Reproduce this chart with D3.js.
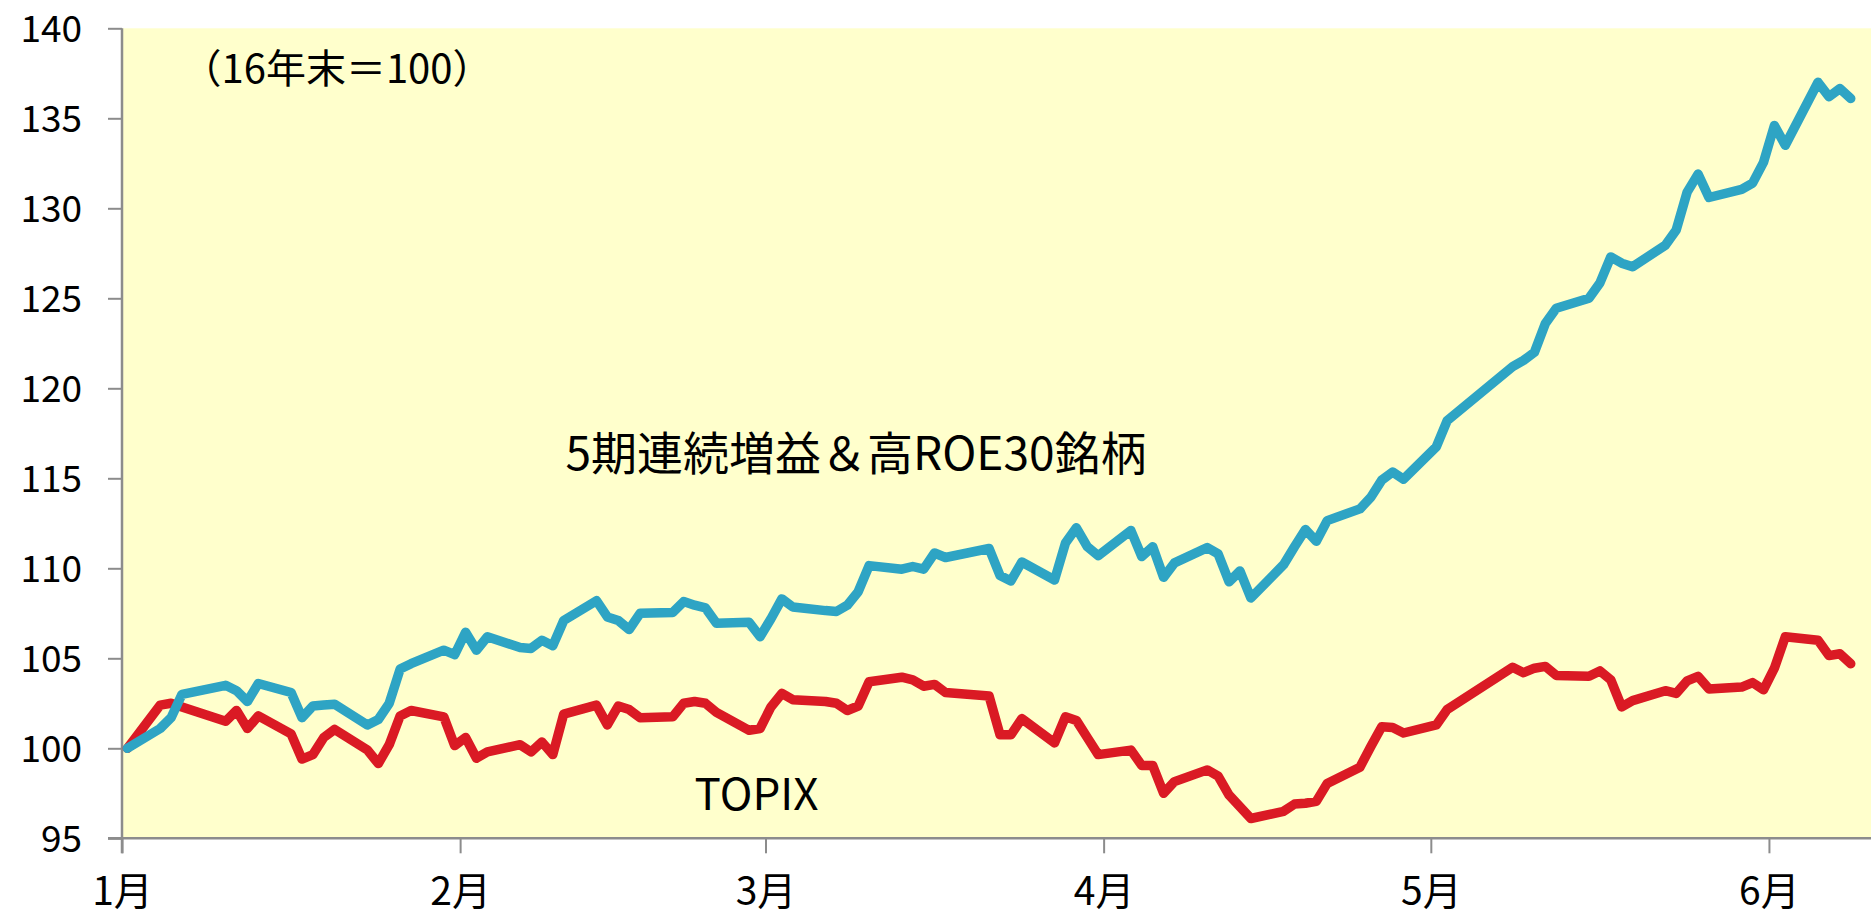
<!DOCTYPE html>
<html>
<head>
<meta charset="utf-8">
<script src="https://cdn.jsdelivr.net/npm/d3@7"></script>
<style>
  html, body { margin: 0; padding: 0; background: #ffffff; overflow: hidden; }
  svg text { font-family: "Noto Sans CJK JP", "Noto Sans", sans-serif; fill: #000; }
</style>
</head>
<body>
<svg id="chart" width="1871" height="917"></svg>
<script>
// Trading days (base point placed on 1 Jan = end of 2016 level)
const dates = [
  "2017-01-01",
  "2017-01-04","2017-01-05","2017-01-06","2017-01-10","2017-01-11","2017-01-12","2017-01-13",
  "2017-01-16","2017-01-17","2017-01-18","2017-01-19","2017-01-20","2017-01-23","2017-01-24",
  "2017-01-25","2017-01-26","2017-01-27","2017-01-30","2017-01-31",
  "2017-02-01","2017-02-02","2017-02-03","2017-02-06","2017-02-07","2017-02-08","2017-02-09",
  "2017-02-10","2017-02-13","2017-02-14","2017-02-15","2017-02-16","2017-02-17","2017-02-20",
  "2017-02-21","2017-02-22","2017-02-23","2017-02-24","2017-02-27","2017-02-28",
  "2017-03-01","2017-03-02","2017-03-03","2017-03-06","2017-03-07","2017-03-08","2017-03-09",
  "2017-03-10","2017-03-13","2017-03-14","2017-03-15","2017-03-16","2017-03-17","2017-03-21",
  "2017-03-22","2017-03-23","2017-03-24","2017-03-27","2017-03-28","2017-03-29","2017-03-30",
  "2017-03-31",
  "2017-04-03","2017-04-04","2017-04-05","2017-04-06","2017-04-07","2017-04-10","2017-04-11",
  "2017-04-12","2017-04-13","2017-04-14","2017-04-17","2017-04-18","2017-04-19","2017-04-20",
  "2017-04-21","2017-04-24","2017-04-25","2017-04-26","2017-04-27","2017-04-28",
  "2017-05-01","2017-05-02","2017-05-08","2017-05-09","2017-05-10","2017-05-11","2017-05-12",
  "2017-05-15","2017-05-16","2017-05-17","2017-05-18","2017-05-19","2017-05-22","2017-05-23",
  "2017-05-24","2017-05-25","2017-05-26","2017-05-29","2017-05-30","2017-05-31",
  "2017-06-01","2017-06-02","2017-06-05","2017-06-06","2017-06-07","2017-06-08"
];

// 5期連続増益＆高ROE30銘柄 (16年末＝100)
const highRoe30 = [
  100,
  101.1, 101.7, 103.0, 103.5, 103.2, 102.6, 103.6,
  103.1, 101.7, 102.35, 102.4, 102.45, 101.3, 101.6,
  102.5, 104.4, 104.7, 105.45, 105.2,
  106.45, 105.45, 106.2, 105.6, 105.55, 106.0, 105.7,
  107.1, 108.2, 107.3, 107.1, 106.6, 107.5, 107.55,
  108.15, 107.95, 107.8, 106.95, 107.0, 106.2,
  107.2, 108.3, 107.85, 107.65, 107.6, 107.95, 108.7,
  110.15, 109.95, 110.1, 109.95, 110.85, 110.6, 111.1,
  109.6, 109.3, 110.35, 109.35, 111.4, 112.25, 111.2,
  110.7,
  112.1, 110.65, 111.2, 109.5, 110.3, 111.15, 110.8,
  109.25, 109.85, 108.35, 110.2, 111.2, 112.15, 111.5,
  112.65, 113.3, 113.95, 114.9, 115.35, 114.95,
  116.75, 118.2, 121.2, 121.55, 122.0, 123.6, 124.45,
  125.0, 125.85, 127.3, 126.95, 126.75, 127.95, 128.8,
  130.9, 131.9, 130.6, 131.05, 131.4, 132.55,
  134.6, 133.5, 137.0, 136.2, 136.65, 136.1
];

// TOPIX (16年末＝100)
const topix = [
  100,
  102.4, 102.5, 102.3, 101.5, 102.1, 101.1, 101.8,
  100.8, 99.4, 99.65, 100.6, 101.05, 99.9, 99.15,
  100.2, 101.8, 102.1, 101.75, 100.15,
  100.6, 99.45, 99.8, 100.2, 99.8, 100.35, 99.65,
  101.9, 102.4, 101.3, 102.35, 102.15, 101.7, 101.75,
  102.5, 102.6, 102.5, 102.0, 101.0, 101.1,
  102.3, 103.05, 102.7, 102.6, 102.5, 102.1, 102.35,
  103.7, 103.95, 103.8, 103.45, 103.55, 103.1, 102.9,
  100.75, 100.75, 101.65, 100.3, 101.75, 101.55, 100.6,
  99.65,
  99.9, 99.05, 99.05, 97.5, 98.15, 98.8, 98.45,
  97.4, 96.75, 96.1, 96.5, 96.9, 96.95, 97.05,
  98.05, 98.95, 100.1, 101.2, 101.15, 100.85,
  101.3, 102.15, 104.5, 104.2, 104.45, 104.55, 104.05,
  104.0, 104.3, 103.8, 102.3, 102.65, 103.2, 103.05,
  103.75, 104.0, 103.3, 103.4, 103.65, 103.25,
  104.45, 106.2, 106.0, 105.15, 105.25, 104.7
];

const yTicks = [95, 100, 105, 110, 115, 120, 125, 130, 135, 140];
const monthTicks = ["2017-01-01", "2017-02-01", "2017-03-01", "2017-04-01", "2017-05-01", "2017-06-01"];
const monthLabels = ["1月", "2月", "3月", "4月", "5月", "6月"];

const seriesLabel = "5期連続増益＆高ROE30銘柄";
const indexLabel = "TOPIX";
const baseNote = "（16年末＝100）";

// ---- layout ----
const plotLeft = 122, plotRight = 1871, plotTop = 28.3, plotBottom = 838.3;

const parse = d3.timeParse("%Y-%m-%d");
const dayMs = 864e5;
// each trading day sits in the middle of its calendar-day slot
const pts = (vals) => dates.map((d, i) => ({ t: new Date(parse(d).getTime() + dayMs / 2), v: vals[i] }));

const x = d3.scaleTime()
  .domain([parse("2017-01-01"), parse("2017-06-10")])
  .range([plotLeft, 1867.1]);

const y = d3.scaleLinear().domain([95, 140]).range([plotBottom, plotTop]);

const svg = d3.select("#chart");

svg.append("rect")
  .attr("x", plotLeft).attr("y", plotTop)
  .attr("width", plotRight - plotLeft).attr("height", plotBottom - plotTop)
  .attr("fill", "#ffffcc");

const axisColor = "#8c8c8c";

// y axis
const yAxis = svg.append("g")
  .attr("transform", `translate(${plotLeft},0)`)
  .call(d3.axisLeft(y).tickValues(yTicks).tickSize(14).tickSizeOuter(0).tickPadding(26));
yAxis.select(".domain").remove();
yAxis.selectAll(".tick line").attr("stroke", axisColor).attr("stroke-width", 2);
yAxis.selectAll(".tick text")
  .attr("font-size", 37)
  .attr("font-family", "Lato, 'Noto Sans', sans-serif")
  .attr("fill", "#000")
  .attr("dy", "0.36em");

// x axis
const xAxis = svg.append("g")
  .attr("transform", `translate(0,${plotBottom})`)
  .call(d3.axisBottom(x)
    .tickValues(monthTicks.map(parse))
    .tickFormat((d, i) => monthLabels[i])
    .tickSize(15).tickSizeOuter(0).tickPadding(10));
xAxis.select(".domain").remove();
xAxis.selectAll(".tick line").attr("stroke", axisColor).attr("stroke-width", 2);
xAxis.selectAll(".tick text")
  .attr("font-size", 39)
  .attr("font-family", "'Noto Sans CJK JP', sans-serif")
  .attr("fill", "#000")
  .attr("dy", 0)
  .attr("y", 67.2);

// axis lines
svg.append("line")
  .attr("x1", plotLeft).attr("x2", plotLeft).attr("y1", plotTop).attr("y2", plotBottom + 15)
  .attr("stroke", axisColor).attr("stroke-width", 2.5);
svg.append("line")
  .attr("x1", plotLeft - 14).attr("x2", plotRight).attr("y1", plotBottom).attr("y2", plotBottom)
  .attr("stroke", axisColor).attr("stroke-width", 2.5);

// series lines
const line = d3.line().x(d => x(d.t)).y(d => y(d.v));

svg.append("path")
  .datum(pts(topix))
  .attr("d", line)
  .attr("fill", "none")
  .attr("stroke", "#da1a24")
  .attr("stroke-width", 9.5)
  .attr("stroke-linejoin", "round")
  .attr("stroke-linecap", "round");

svg.append("path")
  .datum(pts(highRoe30))
  .attr("d", line)
  .attr("fill", "none")
  .attr("stroke", "#2ea4c4")
  .attr("stroke-width", 9.5)
  .attr("stroke-linejoin", "round")
  .attr("stroke-linecap", "round");

// annotations
svg.append("text")
  .attr("x", 337).attr("y", 83)
  .attr("text-anchor", "middle")
  .attr("font-size", 40)
  .text(baseNote);

svg.append("text")
  .attr("x", 856).attr("y", 470)
  .attr("text-anchor", "middle")
  .attr("font-size", 46)
  .text(seriesLabel);

svg.append("text")
  .attr("x", 756.5).attr("y", 810)
  .attr("text-anchor", "middle")
  .attr("font-size", 44)
  .text(indexLabel);
</script>
</body>
</html>
